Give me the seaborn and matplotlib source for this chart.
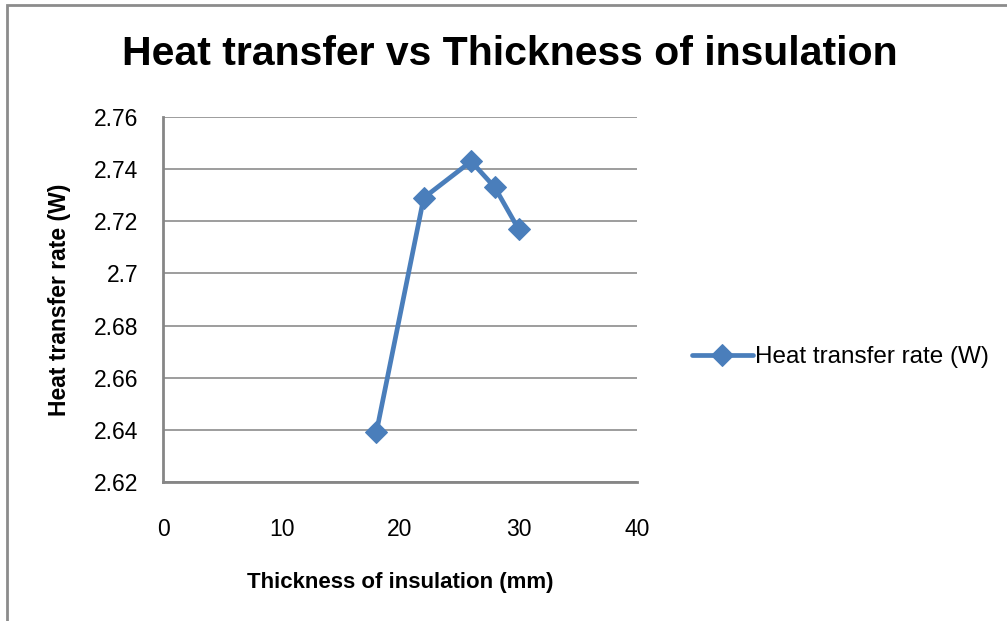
import matplotlib
matplotlib.use("Agg")
import matplotlib.pyplot as plt
import seaborn as sns
import pandas as pd

# data
thickness_mm = [18, 22, 26, 28, 30]
heat_rate_w = [2.639, 2.729, 2.743, 2.733, 2.717]
series_name = "Heat transfer rate (W)"

x_ticks = [0, 10, 20, 30, 40]
y_ticks = [2.62, 2.64, 2.66, 2.68, 2.70, 2.72, 2.74, 2.76]
y_tick_labels = ["2.62", "2.64", "2.66", "2.68", "2.7", "2.72", "2.74", "2.76"]

df = pd.DataFrame({"thickness": thickness_mm, "rate": heat_rate_w})

sns.set_style("white")
plt.rcParams["font.family"] = ["Liberation Sans", "DejaVu Sans"]
plt.rcParams["text.color"] = "black"

fig = plt.figure(figsize=(10.07, 6.21), dpi=100)
ax = fig.add_axes([0.1619, 0.2238, 0.4707, 0.5878])

blue = "#4A7EBB"
sns.lineplot(data=df, x="thickness", y="rate", ax=ax, color=blue, linewidth=3.4,
             marker="D", markersize=11, markeredgecolor=blue, label=series_name)

ax.set_xlim(0, 40)
ax.set_ylim(2.62, 2.76)
ax.set_xticks(x_ticks)
ax.set_yticks(y_ticks)
ax.set_yticklabels(y_tick_labels)
ax.tick_params(axis="both", labelsize=16.5, length=0, colors="black")
ax.tick_params(axis="x", pad=26)
ax.tick_params(axis="y", pad=18)

ax.grid(axis="y", color="#8c8c8c", linewidth=1.2)
ax.set_axisbelow(True)
for side in ["top", "right"]:
    ax.spines[side].set_visible(False)
for side in ["left", "bottom"]:
    ax.spines[side].set_color("#868686")
    ax.spines[side].set_linewidth(2)

ax.set_xlabel("Thickness of insulation (mm)", fontsize=16, fontweight="bold", labelpad=22,
              color="black")
ax.set_ylabel("Heat transfer rate (W)", fontsize=16.5, fontweight="bold", labelpad=16,
              color="black")

fig.suptitle("Heat transfer vs Thickness of insulation", fontsize=29.5, fontweight="bold",
             x=0.506, y=0.944, color="black")

ax.legend(loc="center left", bbox_to_anchor=(1.07, 0.342), frameon=False, fontsize=17.5,
          handlelength=2.5, handletextpad=0.1)

# chart border
fig.patches.append(plt.Rectangle((0.007, -0.01), 1.1, 1.002, transform=fig.transFigure,
                                 fill=False, edgecolor="#8c8c8c", linewidth=2))

fig.savefig("out.png", dpi=100)
